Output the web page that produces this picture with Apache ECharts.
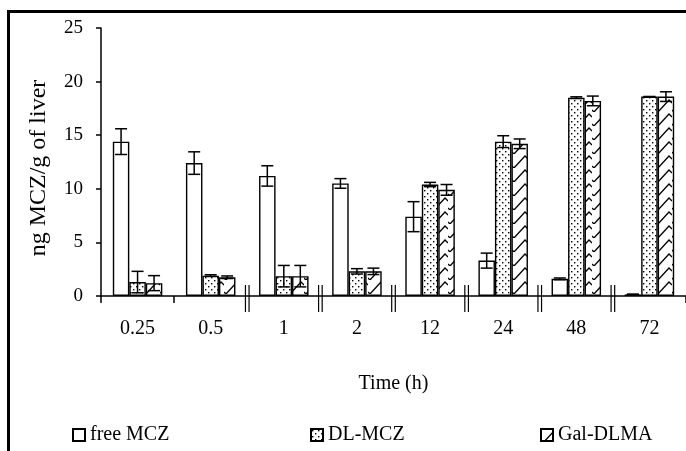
<!DOCTYPE html>
<html>
<head>
<meta charset="utf-8">
<script src="https://cdn.jsdelivr.net/npm/echarts@6/dist/echarts.min.js"></script>
<style>
html,body{margin:0;padding:0;background:#fff;}
#chart{width:686px;height:451px;}
</style>
</head>
<body>
<div id="chart"></div>
<script>
// ---- data ----
const categories = ['0.25', '0.5', '1', '2', '12', '24', '48', '72'];
const seriesNames = ['free MCZ', 'DL-MCZ', 'Gal-DLMA'];
const freeMCZ = [14.4, 12.4, 11.2, 10.5, 7.4, 3.3, 1.6, 0.15];
const freeMCZErr = [1.2, 1.05, 0.95, 0.45, 1.4, 0.7, 0.08, 0.03];
const dlMCZ = [1.3, 1.9, 1.85, 2.3, 10.4, 14.4, 18.5, 18.6];
const dlMCZErr = [1.0, 0.08, 1.0, 0.25, 0.2, 0.55, 0.08, 0.0];
const galDLMA = [1.2, 1.75, 1.85, 2.3, 9.9, 14.2, 18.2, 18.6];
const galDLMAErr = [0.7, 0.12, 1.0, 0.3, 0.5, 0.45, 0.45, 0.45];
const yTicks = { min: 0, max: 25, interval: 5 };
const breakAfter = [2, 3, 4, 5, 6, 7]; // categories whose left boundary carries an axis break

// ---- patterns ----
function dotPattern() {
  const c = document.createElement('canvas');
  c.width = 6; c.height = 6;
  const g = c.getContext('2d');
  g.fillStyle = '#fff'; g.fillRect(0, 0, 6, 6);
  g.fillStyle = '#000';
  g.fillRect(1, 1, 1.4, 1.4);
  g.fillRect(4, 4, 1.4, 1.4);
  return c;
}
function zigPattern() {
  const c = document.createElement('canvas');
  c.width = 16; c.height = 14;
  const g = c.getContext('2d');
  g.fillStyle = '#fff'; g.fillRect(0, 0, 16, 14);
  g.strokeStyle = '#000'; g.lineWidth = 1.3;
  g.beginPath();
  g.moveTo(2, 14); g.lineTo(13, 2); g.lineTo(16, 5);
  g.moveTo(0, 12); g.lineTo(2, 14);
  g.stroke();
  return c;
}
const fills = ['#ffffff', { image: dotPattern(), repeat: 'repeat' }, { image: zigPattern(), repeat: 'repeat' }];
const BAR_W = 16.5;
const serif = '"Liberation Serif", "Times New Roman", serif';

const values = [freeMCZ, dlMCZ, galDLMA];
const errs = [freeMCZErr, dlMCZErr, galDLMAErr];

const series = [];
values.forEach((vals, i) => {
  series.push({
    name: seriesNames[i], type: 'bar', barWidth: BAR_W, barGap: '0%',
    data: vals,
    itemStyle: { color: fills[i], borderColor: '#000', borderWidth: 1.4 },
    emphasis: { disabled: true }, z: 2
  });
});
values.forEach((vals, i) => {
  series.push({
    type: 'custom', name: seriesNames[i] + ' err', z: 5, silent: true,
    data: vals.map((v, k) => [k, v, errs[i][k]]),
    renderItem: function (params, api) {
      const k = api.value(0), v = api.value(1), e = api.value(2);
      const p = api.coord([k, v]);
      const x = p[0] + (i - 1) * BAR_W;
      const yt = api.coord([k, v + e])[1];
      const yb = api.coord([k, v - e])[1];
      const st = { stroke: '#000', lineWidth: 1.5 };
      const cw = 6;
      return {
        type: 'group', children: [
          { type: 'line', shape: { x1: x, y1: yt, x2: x, y2: yb }, style: st },
          { type: 'line', shape: { x1: x - cw, y1: yt, x2: x + cw, y2: yt }, style: st },
          { type: 'line', shape: { x1: x - cw, y1: yb, x2: x + cw, y2: yb }, style: st }
        ]
      };
    }
  });
});
series.push({
  type: 'custom', name: 'breaks', z: 6, silent: true, clip: false,
  data: breakAfter.map(k => [k, 0]),
  renderItem: function (params, api) {
    const k = api.value(0);
    const p = api.coord([k, 0]);
    const x = p[0] - api.size([1, 0])[0] / 2;
    const y = p[1];
    const st = { stroke: '#000', lineWidth: 1.2 };
    return {
      type: 'group', children: [
        { type: 'line', shape: { x1: x - 1.8, y1: y - 11, x2: x - 1.8, y2: y + 16 }, style: st },
        { type: 'line', shape: { x1: x + 1.8, y1: y - 11, x2: x + 1.8, y2: y + 16 }, style: st }
      ]
    };
  }
});

const chart = echarts.init(document.getElementById('chart'), null, { renderer: 'canvas' });
const legendBase = {
  top: 420, itemWidth: 12, itemHeight: 12, icon: 'rect', itemGap: 5,
  textStyle: { fontFamily: serif, fontSize: 20, color: '#000' },
  selectedMode: false
};
chart.setOption({
  animation: false,
  backgroundColor: '#fff',
  grid: { left: 101, top: 28, width: 592, height: 268, containLabel: false },
  xAxis: {
    type: 'category', data: categories,
    name: 'Time (h)', nameLocation: 'middle', nameGap: 78,
    nameTextStyle: { fontFamily: serif, fontSize: 20, color: '#000' },
    axisLine: { lineStyle: { color: '#000', width: 1.5 } },
    axisTick: { show: true, interval: (idx) => idx <= 1, length: 7, lineStyle: { color: '#000', width: 1.5 } },
    axisLabel: { fontFamily: serif, fontSize: 20, color: '#000', margin: 23 },
    splitLine: { show: false }
  },
  yAxis: {
    type: 'value', min: yTicks.min, max: yTicks.max, interval: yTicks.interval,
    name: 'ng MCZ/g of liver', nameLocation: 'middle', nameGap: 50,
    nameTextStyle: { fontFamily: serif, fontSize: 24, color: '#000', padding: [0, 12, 0, 0] },
    axisLine: { show: true, lineStyle: { color: '#000', width: 1.5 } },
    axisTick: { show: true, length: 5, lineStyle: { color: '#000', width: 1.5 } },
    axisLabel: { fontFamily: serif, fontSize: 19, color: '#000', margin: 18 },
    splitLine: { show: false }
  },
  legend: [
    Object.assign({ left: 67, data: [seriesNames[0]] }, legendBase),
    Object.assign({ left: 305, data: [seriesNames[1]] }, legendBase),
    Object.assign({ left: 535, data: [seriesNames[2]] }, legendBase)
  ],
  graphic: [{
    type: 'rect', silent: true, z: 100,
    shape: { x: 8.5, y: 11.5, width: 720, height: 480 },
    style: { fill: 'none', stroke: '#000', lineWidth: 3 }
  }],
  series: series
});
</script>
</body>
</html>
